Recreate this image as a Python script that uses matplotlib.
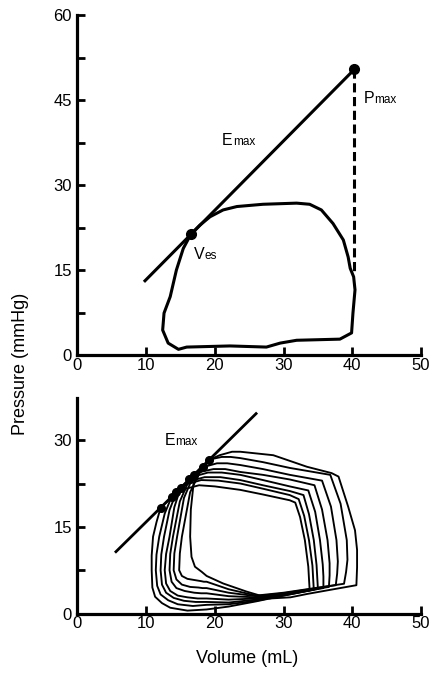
import matplotlib
matplotlib.use("Agg")
import matplotlib.pyplot as plt

plt.rcParams['font.family'] = ['Liberation Sans', 'DejaVu Sans']

# ---------------- data: top panel ----------------
top_loop_vol = [16.5, 15.4, 14.4, 13.5, 12.6, 12.4, 13.2, 14.7, 15.9, 22.2, 27.5, 29.5, 31.9,
                38.2, 39.9, 40.1, 40.4, 40.2, 39.7, 39.4, 38.7, 37.2, 35.5, 33.8, 31.9, 27.0,
                23.2, 21.2, 19.3, 17.8, 16.5]
top_loop_pres = [21.3, 18.8, 15.0, 10.3, 7.4, 4.4, 2.1, 1.0, 1.4, 1.6, 1.4, 2.1, 2.6,
                 2.8, 3.9, 7.4, 11.5, 13.8, 15.3, 17.3, 20.3, 23.2, 25.6, 26.6, 26.8, 26.6,
                 26.2, 25.6, 24.4, 22.9, 21.3]
top_emax_vol = [9.83, 40.3]
top_emax_pres = [13.1, 50.4]
top_ves = (16.5, 21.3)
top_pmax = (40.3, 50.4)
top_dash_vol = [40.3, 40.3]
top_dash_pres = [50.4, 14.1]

# ---------------- data: bottom panel ----------------
bot_emax_vol = [5.6, 26.0]
bot_emax_pres = [10.7, 34.6]
es_vol = [12.1, 13.7, 14.4, 15.0, 16.3, 16.9, 18.2, 19.2]
es_pres = [18.3, 20.2, 21.0, 21.7, 23.2, 23.9, 25.4, 26.6]

loop1_vol = [12.1, 11.5, 11.0, 10.8, 10.8, 10.9, 11.3, 12.3, 13.5, 16.0, 18.8, 22.0, 26.0, 30.0,
             33.8, 33.7, 33.6, 33.1, 32.4, 31.7, 30.9, 27.0, 23.7, 20.0, 17.7, 15.5, 13.8]
loop1_pres = [18.3, 15.8, 13.3, 10.0, 7.5, 4.5, 2.9, 1.8, 1.0, 0.5, 0.7, 1.2, 2.1, 3.1,
              4.0, 6.0, 8.1, 12.7, 16.7, 19.2, 19.6, 20.6, 21.4, 22.0, 22.2, 21.5, 20.2]
loop2_vol = [13.7, 12.7, 11.9, 11.5, 11.4, 11.6, 12.1, 13.2, 14.6, 16.8, 18.8, 22.0, 26.0, 30.0,
             34.4, 34.3, 34.2, 33.7, 33.0, 32.2, 30.9, 27.0, 23.7, 20.5, 18.0, 16.0, 14.8]
loop2_pres = [20.2, 17.3, 13.3, 10.2, 7.5, 4.8, 3.3, 2.3, 1.6, 1.3, 1.5, 1.6, 2.2, 3.1,
              4.1, 6.2, 8.3, 12.7, 16.9, 19.8, 20.5, 21.6, 22.5, 23.0, 23.1, 22.4, 21.4]
loop3_vol = [14.4, 13.4, 12.6, 12.2, 12.1, 12.3, 12.9, 14.0, 15.5, 17.2, 18.8, 22.0, 26.0, 30.0,
             35.0, 34.9, 34.8, 34.4, 33.7, 32.9, 30.9, 27.0, 23.7, 20.8, 18.5, 16.6, 15.4]
loop3_pres = [21.0, 17.9, 13.3, 10.2, 7.5, 5.0, 3.6, 2.7, 2.2, 2.0, 2.0, 1.9, 2.4, 3.2,
              4.25, 6.3, 8.4, 12.7, 17.2, 20.5, 21.2, 22.2, 23.1, 23.6, 23.6, 23.0, 22.1]
loop4_vol = [15.0, 14.1, 13.4, 12.9, 12.7, 12.9, 13.5, 14.6, 16.0, 17.5, 18.8, 22.0, 26.0, 30.0,
             35.8, 35.8, 35.7, 35.3, 34.6, 33.6, 30.9, 27.0, 23.7, 21.0, 19.0, 17.2, 15.9]
loop4_pres = [21.7, 18.4, 13.3, 10.3, 7.5, 5.2, 3.9, 3.1, 2.8, 2.6, 2.6, 2.4, 2.6, 3.3,
              4.4, 6.4, 8.5, 12.7, 17.6, 21.3, 22.0, 23.1, 24.0, 24.4, 24.4, 23.8, 22.8]
loop5_vol = [16.3, 14.9, 13.9, 13.5, 13.4, 13.7, 14.4, 15.6, 17.0, 18.0, 18.8, 22.0, 26.0, 30.0,
             36.6, 36.7, 36.7, 36.4, 35.6, 34.5, 30.9, 27.0, 23.7, 21.5, 19.8, 18.2, 17.1]
loop5_pres = [23.2, 19.4, 13.3, 10.3, 7.5, 5.5, 4.4, 3.9, 3.6, 3.5, 3.5, 3.0, 2.8, 3.4,
              4.6, 6.6, 8.7, 12.7, 18.0, 22.2, 23.2, 24.0, 24.5, 25.0, 25.0, 24.6, 24.0]
loop6_vol = [16.9, 15.5, 14.5, 14.1, 14.0, 14.4, 15.2, 16.4, 17.6, 18.2, 18.8, 22.0, 26.0, 30.0,
             37.6, 37.8, 37.9, 37.7, 36.9, 35.6, 30.9, 27.0, 23.7, 21.8, 20.3, 18.8, 17.7]
loop6_pres = [23.9, 20.0, 13.3, 10.4, 7.5, 5.9, 5.0, 4.6, 4.5, 4.4, 4.4, 3.6, 3.0, 3.5,
              4.9, 6.9, 9.0, 12.7, 18.5, 23.0, 24.0, 25.0, 25.7, 26.0, 26.0, 25.5, 24.8]
loop7_vol = [18.2, 16.4, 15.2, 14.9, 14.8, 15.2, 16.0, 17.0, 18.0, 18.4, 18.8, 22.0, 26.0, 30.0,
             38.8, 39.1, 39.3, 39.2, 38.3, 36.8, 30.9, 27.0, 23.7, 22.3, 21.0, 19.8, 18.9]
loop7_pres = [25.4, 21.0, 13.3, 10.4, 7.5, 6.5, 6.0, 5.8, 5.6, 5.5, 5.5, 4.2, 3.1, 3.6,
              5.15, 7.2, 9.3, 12.7, 19.0, 24.0, 25.2, 26.2, 26.9, 27.1, 27.1, 26.8, 26.0]
loop8_vol = [19.2, 17.6, 16.9, 16.5, 16.4, 16.6, 17.1, 18.1, 18.8, 21.2, 24.6, 28.0, 31.0, 33.5,
             36.8, 40.6, 40.7, 40.7, 40.4, 39.4, 38.0, 37.0, 33.4, 31.2, 28.5, 23.7, 22.5, 20.7]
loop8_pres = [26.6, 24.2, 22.5, 18.0, 13.3, 9.8, 8.1, 7.2, 6.5, 5.2, 3.8, 2.6, 2.8, 3.4,
              4.1, 4.9, 8.0, 11.0, 14.4, 18.5, 23.7, 24.3, 25.4, 26.3, 27.4, 28.0, 28.0, 27.4]

loops = [(loop1_vol, loop1_pres), (loop2_vol, loop2_pres), (loop3_vol, loop3_pres),
         (loop4_vol, loop4_pres), (loop5_vol, loop5_pres), (loop6_vol, loop6_pres),
         (loop7_vol, loop7_pres), (loop8_vol, loop8_pres)]

x_ticks = [0, 10, 20, 30, 40, 50]
top_y_ticks = [0, 7.5, 15, 22.5, 30, 37.5, 45, 52.5, 60]
bot_y_ticks = [0, 7.5, 15, 22.5, 30]

# ---------------- figure ----------------
fig = plt.figure(figsize=(4.37, 6.73), dpi=100)
ax1 = fig.add_axes([0.1773, 0.4725, 0.786, 0.5052])
ax2 = fig.add_axes([0.1773, 0.0884, 0.786, 0.3202])


def style(ax, ylim, yticks):
    ax.set_xlim(0, 50)
    ax.set_ylim(*ylim)
    for s in ['top', 'right']:
        ax.spines[s].set_visible(False)
    for s in ['left', 'bottom']:
        ax.spines[s].set_linewidth(2.3)
    ax.set_xticks(x_ticks)
    ax.set_xticklabels([str(t) for t in x_ticks])
    ax.set_yticks(yticks)
    ax.set_yticklabels([('%d' % t) if t % 15 == 0 else '' for t in yticks])
    ax.tick_params(axis='both', direction='in', length=6, width=2.0, labelsize=12)
    ax.tick_params(axis='y', pad=4)
    ax.tick_params(axis='x', pad=2)


def label(ax, x, y, big, small, size=11.5, ssize=8.5):
    ax.text(x, y, big, ha='right', va='baseline', fontsize=size)
    ax.text(x, y, small, ha='left', va='baseline', fontsize=ssize)


style(ax1, (0, 60), top_y_ticks)
style(ax2, (0, 37.3), bot_y_ticks)

# top panel
ax1.plot(top_loop_vol, top_loop_pres, color='black', lw=2.2, solid_joinstyle='round')
ax1.plot(top_emax_vol, top_emax_pres, color='black', lw=2.2)
ax1.plot(top_dash_vol, top_dash_pres, color='black', lw=2.2, dashes=(3.0, 1.5))
ax1.plot([top_ves[0], top_pmax[0]], [top_ves[1], top_pmax[1]], 'o', color='black', ms=7)
label(ax1, 22.6, 37.0, 'E', 'max')
label(ax1, 43.2, 44.5, 'P', 'max')
label(ax1, 18.5, 17.0, 'V', 'es')

# bottom panel
for v, p in loops:
    ax2.plot(v + [v[0]], p + [p[0]], color='black', lw=1.35, solid_joinstyle='round')
ax2.plot(bot_emax_vol, bot_emax_pres, color='black', lw=2.0)
ax2.plot(es_vol, es_pres, 'o', color='black', ms=5.5)
label(ax2, 14.2, 29.2, 'E', 'max')

fig.text(0.046, 0.46, 'Pressure (mmHg)', rotation=90, ha='center', va='center', fontsize=13)
fig.text(0.565, 0.022, 'Volume (mL)', ha='center', va='center', fontsize=13)

fig.savefig('out.png', dpi=100, facecolor='white')
